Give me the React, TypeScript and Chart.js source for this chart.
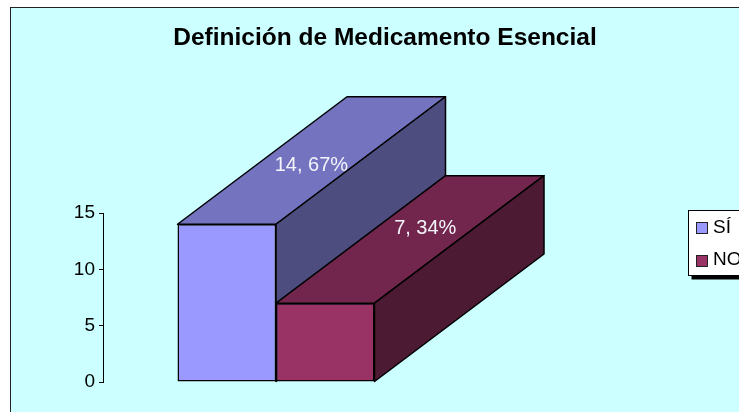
import { useEffect, useRef } from "react";
import { Chart, registerables } from "chart.js";

Chart.register(...registerables);

const categories = ["Definición"];
const siValues = [14];
const noValues = [7];
const seriesLabels = ["SÍ", "NO"];
const sharePercent = ["67%", "34%"];
const yTicksMax = 15;
const yTicksStep = 5;
const chartTitle = "Definición de Medicamento Esencial";

const FONT = "'Liberation Sans', Arial, sans-serif";
const DEPTH_X = 169.5;
const DEPTH_Y = -127.5;
const LABEL_DEPTH = [0.47, 0.59];
const LABEL_NUDGE_X = [5, 0];
const LABEL_NUDGE_Y = 1;
const LINE = 1.5;
const FRONT = ["#9999FF", "#993366"];
const TOP = ["#7373BF", "#73264D"];
const SIDE = ["#4D4D80", "#4D1A33"];

const face = (ctx: CanvasRenderingContext2D, pts: number[][], fill: string) => {
  ctx.beginPath();
  pts.forEach(([x, y], i) => (i ? ctx.lineTo(x, y) : ctx.moveTo(x, y)));
  ctx.closePath();
  ctx.fillStyle = fill;
  ctx.fill();
  ctx.lineWidth = LINE;
  ctx.strokeStyle = "#000";
  ctx.lineJoin = "round";
  ctx.stroke();
};

const panelPlugin = {
  id: "panel",
  beforeDraw(chart: any) {
    const { ctx, width, height } = chart;
    ctx.save();
    ctx.fillStyle = "#CCFFFF";
    ctx.fillRect(11, 8, width, height);
    ctx.fillStyle = "#222";
    ctx.fillRect(10, 7, width, 1);
    ctx.fillRect(10, 7, 1, height);
    ctx.restore();
  },
};

const depthPlugin = {
  id: "depth",
  beforeDatasetsDraw(chart: any) {
    const { ctx } = chart;
    ctx.save();
    chart.data.datasets.forEach((_: any, i: number) => {
      const bar = chart.getDatasetMeta(i).data[0];
      const half = bar.width / 2;
      const l = bar.x - half;
      const r = bar.x + half;
      const t = bar.y;
      const b = bar.base;
      face(ctx, [[l, t], [r, t], [r + DEPTH_X, t + DEPTH_Y], [l + DEPTH_X, t + DEPTH_Y]], TOP[i]);
      face(ctx, [[r, t], [r + DEPTH_X, t + DEPTH_Y], [r + DEPTH_X, b + DEPTH_Y], [r, b]], SIDE[i]);
    });
    ctx.restore();
  },
  afterDatasetsDraw(chart: any) {
    const { ctx } = chart;
    ctx.save();
    ctx.font = `20px ${FONT}`;
    ctx.fillStyle = "#F4F4FA";
    ctx.textAlign = "center";
    ctx.textBaseline = "middle";
    chart.data.datasets.forEach((ds: any, i: number) => {
      const bar = chart.getDatasetMeta(i).data[0];
      const f = LABEL_DEPTH[i];
      ctx.fillText(
        `${ds.data[0]}, ${sharePercent[i]}`,
        bar.x + f * DEPTH_X + LABEL_NUDGE_X[i],
        bar.y + f * DEPTH_Y + LABEL_NUDGE_Y
      );
    });
    ctx.restore();
  },
};

const legendPlugin = {
  id: "boxLegend",
  afterDraw(chart: any) {
    const { ctx } = chart;
    const x = 688.5, y = 210.5, w = 70, h = 65;
    ctx.save();
    ctx.fillStyle = "#000";
    ctx.fillRect(x + 3, y + 3, w + 1, h + 1);
    ctx.fillStyle = "#fff";
    ctx.fillRect(x, y, w, h);
    ctx.strokeStyle = "#000";
    ctx.lineWidth = 1;
    ctx.strokeRect(x, y, w, h);
    ctx.font = `19px ${FONT}`;
    ctx.textBaseline = "alphabetic";
    ctx.textAlign = "left";
    chart.data.datasets.forEach((ds: any, i: number) => {
      const top = 222.5 + i * 33;
      ctx.fillStyle = FRONT[i];
      ctx.fillRect(696.5, top, 11, 11);
      ctx.strokeStyle = "#222";
      ctx.strokeRect(696.5, top, 11, 11);
      ctx.fillStyle = "#000";
      ctx.fillText(ds.label, 713, 233 + i * 32);
    });
    ctx.restore();
  },
};

export default function App() {
  const ref = useRef<HTMLCanvasElement>(null);
  useEffect(() => {
    const chart = new Chart(ref.current!, {
      type: "bar",
      data: {
        labels: categories,
        datasets: [
          { label: seriesLabels[0], data: siValues, backgroundColor: FRONT[0] },
          { label: seriesLabels[1], data: noValues, backgroundColor: FRONT[1] },
        ].map((d) => ({ ...d, borderColor: "#000", borderWidth: LINE, borderSkipped: false })),
      },
      options: {
        animation: false,
        responsive: false,
        events: [],
        categoryPercentage: 0.5694,
        barPercentage: 1,
        layout: { padding: { top: 0, left: 0, right: 0, bottom: 30 } },
        plugins: {
          legend: { display: false },
          tooltip: { enabled: false },
          title: {
            display: true,
            text: chartTitle,
            color: "#000",
            font: { family: FONT, size: 24.5, weight: "bold" },
            padding: { top: 24, bottom: 159.6 },
          },
        },
        scales: {
          x: { display: false },
          y: {
            min: 0,
            max: yTicksMax,
            afterFit: (s: any) => { s.width = 103; },
            ticks: { stepSize: yTicksStep, color: "#000", padding: 4, font: { family: FONT, size: 19 } },
            grid: { drawOnChartArea: false, color: "#000", tickLength: 4 },
            border: { color: "#000" },
          },
          spacer: {
            type: "linear",
            position: "right",
            afterFit: (s: any) => { s.width = 321; },
            ticks: { display: false },
            grid: { display: false },
            border: { display: false },
          },
        },
      } as any,
      plugins: [panelPlugin, depthPlugin, legendPlugin],
    });
    return () => chart.destroy();
  }, []);
  return (
    <div style={{ position: "absolute", left: 0, top: 0, width: 739, height: 412, overflow: "hidden" }}>
      <canvas ref={ref} width={770} height={412} style={{ display: "block" }} />
    </div>
  );
}
